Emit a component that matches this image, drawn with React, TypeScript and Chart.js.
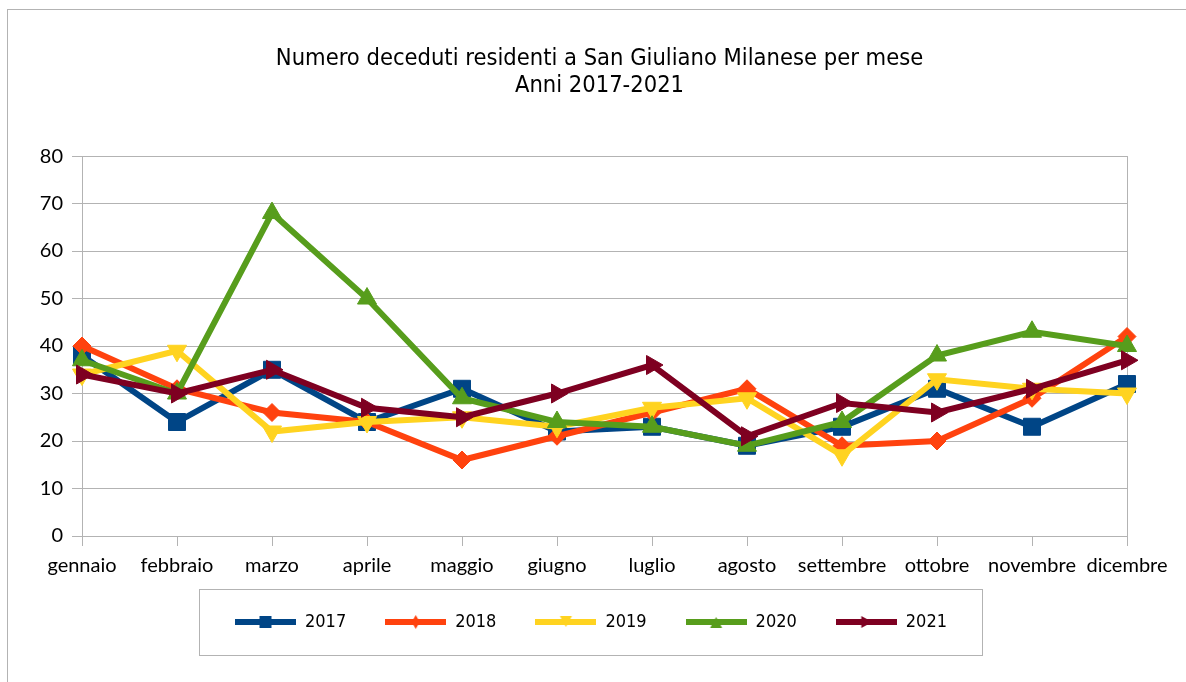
import { useEffect, useRef } from 'react';
import { Chart, registerables } from 'chart.js';

Chart.register(...registerables);

const months = ['gennaio', 'febbraio', 'marzo', 'aprile', 'maggio', 'giugno', 'luglio', 'agosto', 'settembre', 'ottobre', 'novembre', 'dicembre'];
const years = ['2017', '2018', '2019', '2020', '2021'];
const d2017 = [38, 24, 35, 24, 31, 22, 23, 19, 23, 31, 23, 32];
const d2018 = [40, 31, 26, 24, 16, 21, 26, 31, 19, 20, 29, 42];
const d2019 = [34, 39, 22, 24, 25, 23, 27, 29, 17, 33, 31, 30];
const d2020 = [37, 30, 68, 50, 29, 24, 23, 19, 24, 38, 43, 40];
const d2021 = [34, 30, 35, 27, 25, 30, 36, 21, 28, 26, 31, 37];
const seriesValues = [d2017, d2018, d2019, d2020, d2021];
const colors = ['#004586', '#ff420e', '#ffd320', '#579d1c', '#7e0021'];
const markerStyles = ['rect', 'rectRot', 'triangle', 'triangle', 'triangle'];
const markerRotations = [0, 0, 180, 0, 90];
const markerRadii = [12, 9, 11, 11, 11];
const yTicks = { min: 0, max: 80, step: 10 };
const titleLines = ['Numero deceduti residenti a San Giuliano Milanese per mese', 'Anni 2017-2021'];

const GRID = '#b3b3b3';
const TITLE_FONT = "'DejaVu Sans Condensed', 'DejaVu Sans', sans-serif";
const AXIS_FONT = "Lato, 'Open Sans', sans-serif";
const LEGEND_LEFT = 55;
const LEGEND_RAISE = 4;
const TITLE_LEFT = 72;

function makeLegendImage(color: string, kind: number) {
  const c = document.createElement('canvas');
  c.width = 61;
  c.height = 16;
  const g = c.getContext('2d')!;
  g.fillStyle = color;
  g.fillRect(0, 5, 61, 6);
  const cx = 30.5;
  const cy = 8;
  g.beginPath();
  if (kind === 0) {
    g.rect(cx - 6, cy - 6, 12, 12);
  } else if (kind === 1) {
    g.moveTo(cx, cy - 7);
    g.lineTo(cx + 4, cy);
    g.lineTo(cx, cy + 7);
    g.lineTo(cx - 4, cy);
  } else if (kind === 2) {
    g.moveTo(cx - 6, cy - 6);
    g.lineTo(cx + 6, cy - 6);
    g.lineTo(cx, cy + 5);
  } else if (kind === 3) {
    g.moveTo(cx, cy - 5);
    g.lineTo(cx + 6, cy + 6);
    g.lineTo(cx - 6, cy + 6);
  } else {
    g.moveTo(cx + 6, cy);
    g.lineTo(cx - 5, cy - 6);
    g.lineTo(cx - 5, cy + 6);
  }
  g.closePath();
  g.fill();
  return c;
}

const legendBoxPlugin = {
  id: 'legendBox',
  afterLayout(chart: any) {
    const lg = chart.legend;
    if (lg) {
      lg.left = LEGEND_LEFT;
      lg.top -= LEGEND_RAISE;
    }
    const tb = chart.titleBlock;
    if (tb) tb.left = TITLE_LEFT;
  },
  afterDraw(chart: any) {
    const lg = chart.legend;
    if (!lg || !lg.legendHitBoxes || !lg.legendHitBoxes.length) return;
    const hb = lg.legendHitBoxes;
    const first = hb[0];
    const last = hb[hb.length - 1];
    const cy = first.top + first.height / 2;
    const left = Math.round(first.left - 36) + 0.5;
    const right = Math.round(last.left + last.width + 35) + 0.5;
    const top = Math.round(cy - 33) + 0.5;
    const bottom = Math.round(cy + 33) + 0.5;
    const ctx = chart.ctx;
    ctx.save();
    ctx.strokeStyle = GRID;
    ctx.lineWidth = 1;
    ctx.strokeRect(left, top, right - left, bottom - top);
    ctx.restore();
  },
};

export default function App() {
  const ref = useRef<HTMLCanvasElement | null>(null);

  useEffect(() => {
    if (!ref.current) return;
    const legendImages = colors.map((c, i) => makeLegendImage(c, i));
    const datasets = years.map((y, i) => ({
      label: y,
      data: seriesValues[i],
      borderColor: colors[i],
      backgroundColor: colors[i],
      borderWidth: 6,
      pointStyle: markerStyles[i],
      pointRotation: markerRotations[i],
      pointRadius: markerRadii[i],
      pointBorderWidth: 1,
      pointBackgroundColor: colors[i],
      pointBorderColor: colors[i],
      tension: 0,
      order: years.length - 1 - i,
    }));
    const chart = new Chart(ref.current, {
      type: 'line',
      data: { labels: months, datasets: datasets as any },
      plugins: [legendBoxPlugin],
      options: {
        responsive: false,
        animation: false,
        devicePixelRatio: 1,
        layout: { padding: { left: 0, right: 59, top: 0, bottom: 37 } },
        plugins: {
          tooltip: { enabled: false },
          title: {
            display: true,
            text: titleLines,
            color: '#000',
            font: { family: TITLE_FONT, size: 23.5, weight: 'normal', lineHeight: 1.15 },
            padding: { top: 45, bottom: 57 },
          },
          legend: {
            position: 'bottom',
            labels: {
              usePointStyle: true,
              pointStyleWidth: 61,
              padding: 39,
              color: '#000',
              font: { family: TITLE_FONT, size: 18 },
              generateLabels: (ch: any) =>
                ch.data.datasets.map((ds: any, i: number) => ({
                  text: ds.label,
                  pointStyle: legendImages[i],
                  fillStyle: ds.borderColor,
                  strokeStyle: ds.borderColor,
                  lineWidth: 0,
                  hidden: false,
                  datasetIndex: i,
                  fontColor: '#000',
                })),
            },
          },
        },
        scales: {
          x: {
            offset: false,
            grid: {
              display: true,
              drawOnChartArea: true,
              color: (ctx: any) => (ctx.index === months.length - 1 ? GRID : 'rgba(0,0,0,0)'),
              tickColor: GRID,
              tickLength: 10,
              lineWidth: 1,
            },
            border: { display: true, color: GRID },
            ticks: {
              color: '#000',
              font: { family: AXIS_FONT, size: 20 },
              padding: 8,
              maxRotation: 0,
              autoSkip: false,
            },
            afterFit: (s: any) => {
              s.height = 42;
            },
          },
          y: {
            min: yTicks.min,
            max: yTicks.max,
            grid: { color: GRID, tickColor: GRID, tickLength: 10, lineWidth: 1 },
            border: { display: true, color: GRID },
            ticks: {
              stepSize: yTicks.step,
              color: '#000',
              font: { family: AXIS_FONT, size: 20 },
              padding: 9,
            },
            afterFit: (s: any) => {
              s.width = 82;
            },
          },
        },
      } as any,
    });
    return () => chart.destroy();
  }, []);

  return (
    <div style={{ position: 'fixed', left: 0, top: 0, width: 1186, height: 682, background: '#fff' }}>
      <canvas ref={ref} width={1186} height={682} style={{ display: 'block' }} />
      <div
        style={{
          position: 'absolute',
          left: 7,
          top: 9,
          width: 1200,
          height: 700,
          borderTop: `1px solid ${GRID}`,
          borderLeft: `1px solid ${GRID}`,
          pointerEvents: 'none',
        }}
      />
    </div>
  );
}
